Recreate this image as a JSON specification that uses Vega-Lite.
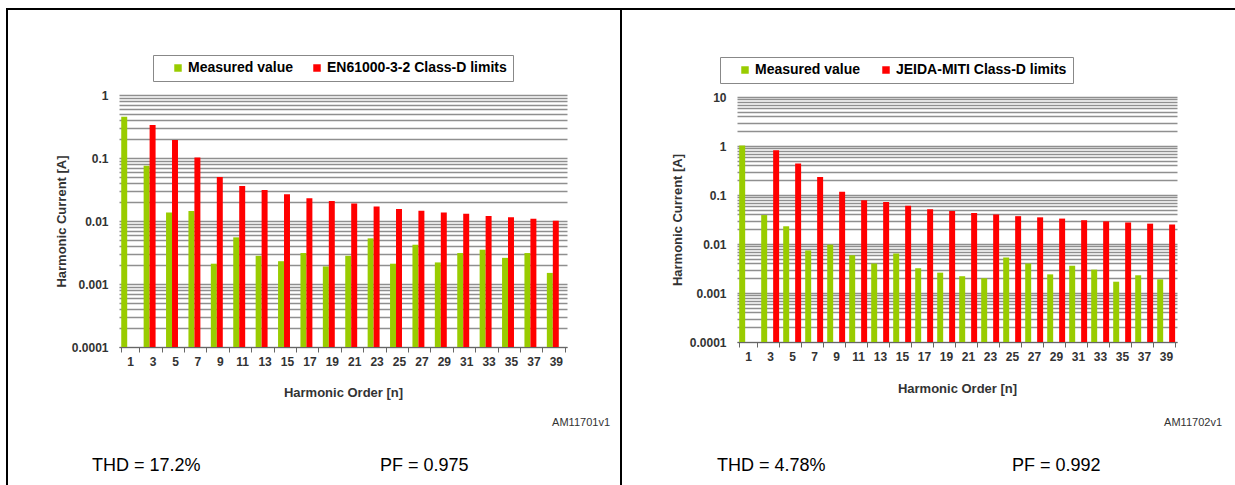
{
  "$schema": "https://vega.github.io/schema/vega-lite/v6.json",
  "background": "white",
  "padding": {"left": 6, "top": 8, "right": 0, "bottom": 0},
  "spacing": 0,
  "bounds": "flush",
  "config": {
    "font": "Liberation Sans",
    "view": {"stroke": "black", "strokeWidth": 2},
    "axis": {"labelFont": "Liberation Sans", "titleFont": "Liberation Sans"},
    "legend": {"labelFont": "Liberation Sans"}
  },
  "resolve": {"scale": {"color": "independent"}, "legend": {"color": "independent"}},
  "hconcat": [
    {
      "width": 614,
      "height": 478,
      "resolve": {"scale": {"x": "independent", "y": "independent"}},
      "layer": [
        {
          "data": {"values": [
            {"n": 1, "series": "Measured value", "current": 0.45},
            {"n": 3, "series": "Measured value", "current": 0.075},
            {"n": 5, "series": "Measured value", "current": 0.0137},
            {"n": 7, "series": "Measured value", "current": 0.0144},
            {"n": 9, "series": "Measured value", "current": 0.0021},
            {"n": 11, "series": "Measured value", "current": 0.0055},
            {"n": 13, "series": "Measured value", "current": 0.0028},
            {"n": 15, "series": "Measured value", "current": 0.0023},
            {"n": 17, "series": "Measured value", "current": 0.0031},
            {"n": 19, "series": "Measured value", "current": 0.0019},
            {"n": 21, "series": "Measured value", "current": 0.0028},
            {"n": 23, "series": "Measured value", "current": 0.0053},
            {"n": 25, "series": "Measured value", "current": 0.0021},
            {"n": 27, "series": "Measured value", "current": 0.0042},
            {"n": 29, "series": "Measured value", "current": 0.0022},
            {"n": 31, "series": "Measured value", "current": 0.0031},
            {"n": 33, "series": "Measured value", "current": 0.0035},
            {"n": 35, "series": "Measured value", "current": 0.0026},
            {"n": 37, "series": "Measured value", "current": 0.0031},
            {"n": 39, "series": "Measured value", "current": 0.0015},
            {"n": 3, "series": "EN61000-3-2 Class-D limits", "current": 0.334},
            {"n": 5, "series": "EN61000-3-2 Class-D limits", "current": 0.193},
            {"n": 7, "series": "EN61000-3-2 Class-D limits", "current": 0.102},
            {"n": 9, "series": "EN61000-3-2 Class-D limits", "current": 0.05},
            {"n": 11, "series": "EN61000-3-2 Class-D limits", "current": 0.036},
            {"n": 13, "series": "EN61000-3-2 Class-D limits", "current": 0.031},
            {"n": 15, "series": "EN61000-3-2 Class-D limits", "current": 0.0265},
            {"n": 17, "series": "EN61000-3-2 Class-D limits", "current": 0.023},
            {"n": 19, "series": "EN61000-3-2 Class-D limits", "current": 0.0207},
            {"n": 21, "series": "EN61000-3-2 Class-D limits", "current": 0.019},
            {"n": 23, "series": "EN61000-3-2 Class-D limits", "current": 0.017},
            {"n": 25, "series": "EN61000-3-2 Class-D limits", "current": 0.0155},
            {"n": 27, "series": "EN61000-3-2 Class-D limits", "current": 0.0146},
            {"n": 29, "series": "EN61000-3-2 Class-D limits", "current": 0.0137},
            {"n": 31, "series": "EN61000-3-2 Class-D limits", "current": 0.013},
            {"n": 33, "series": "EN61000-3-2 Class-D limits", "current": 0.012},
            {"n": 35, "series": "EN61000-3-2 Class-D limits", "current": 0.0115},
            {"n": 37, "series": "EN61000-3-2 Class-D limits", "current": 0.0109},
            {"n": 39, "series": "EN61000-3-2 Class-D limits", "current": 0.0101}
          ]},
          "mark": {"type": "bar"},
          "encoding": {
            "x": {
              "field": "n", "type": "ordinal",
              "scale": {"range": [112, 560], "paddingInner": 0.2, "paddingOuter": 0.1},
              "axis": {
                "orient": "bottom", "offset": -140, "title": "Harmonic Order [n]",
                "titleFontSize": 13, "titleFontWeight": "bold", "titleColor": "#333", "titlePadding": 19,
                "labelAngle": 0, "labelFontSize": 12, "labelFontWeight": "bold", "labelColor": "#333", "labelPadding": 4,
                "tickBand": "extent", "tickSize": 5, "tickColor": "#666", "domainColor": "#666", "grid": false
              }
            },
            "xOffset": {"field": "series", "type": "nominal", "scale": {"domain": ["Measured value", "EN61000-3-2 Class-D limits"], "paddingInner": 0, "paddingOuter": 0}},
            "y": {
              "field": "current", "type": "quantitative",
              "scale": {"type": "log", "domain": [0.0001, 1], "range": [338, 86]},
              "axis": {
                "orient": "left", "offset": -112, "title": "Harmonic Current [A]",
                "values": [0.0001,0.0002,0.0003,0.0004,0.0005,0.0006,0.0007,0.0008,0.0009,0.001,0.002,0.003,0.004,0.005,0.006,0.007,0.008,0.009,0.01,0.02,0.03,0.04,0.05,0.06,0.07,0.08,0.09,0.1,0.2,0.3,0.4,0.5,0.6,0.7,0.8,0.9,1],
                "format": "~g",
                "labelExpr": "abs(log(datum.value)/LN10 - round(log(datum.value)/LN10)) < 0.001 ? datum.label : ''",
                "labelOverlap": false, "labelFontSize": 12, "labelFontWeight": "bold", "labelColor": "#333", "labelPadding": 11,
                "ticks": false, "domain": false, "grid": true, "gridColor": "#8f8f8f", "gridWidth": 1.3,
                "titleFontSize": 13, "titleFontWeight": "bold", "titleColor": "#333", "titlePadding": 3
              }
            },
            "y2": {"datum": 0.0001},
            "color": {
              "field": "series", "type": "nominal",
              "scale": {"domain": ["Measured value", "EN61000-3-2 Class-D limits"], "range": ["#99cc00", "#ff0000"]},
              "legend": {
                "title": null, "orient": "none", "legendX": 146, "legendY": 46, "direction": "horizontal",
                "strokeColor": "#888", "fillColor": "white", "padding": 6, "symbolType": "square", "symbolSize": 56,
                "symbolStrokeWidth": 0, "labelFontSize": 14, "labelFontWeight": "bold", "labelColor": "black",
                "labelOffset": 3, "columnPadding": 4, "symbolOffset": 12, "labelLimit": 0
              }
            }
          }
        },
        {
          "data": {"values": [
            {"note": "THD = 17.2%", "slot": "THD", "row": "results"},
            {"note": "PF = 0.975", "slot": "PF", "row": "results"}
          ]},
          "mark": {"type": "text", "align": "left", "baseline": "middle", "fontSize": 18, "color": "black"},
          "encoding": {
            "x": {"field": "slot", "type": "nominal", "scale": {"type": "point", "domain": ["THD", "PF"], "padding": 0, "range": [85, 373]}, "axis": null},
            "y": {"field": "row", "type": "nominal", "scale": {"type": "point", "padding": 0, "range": [457, 457]}, "axis": null},
            "text": {"field": "note"}
          }
        },
        {
          "data": {"values": [{"note": "AM11701v1", "slot": "id", "row": "id"}]},
          "mark": {"type": "text", "align": "right", "baseline": "middle", "fontSize": 11, "color": "#333"},
          "encoding": {
            "x": {"field": "slot", "type": "nominal", "scale": {"type": "point", "padding": 0, "range": [603, 603]}, "axis": null},
            "y": {"field": "row", "type": "nominal", "scale": {"type": "point", "padding": 0, "range": [414, 414]}, "axis": null},
            "text": {"field": "note"}
          }
        }
      ]
    },
    {
      "width": 616,
      "height": 478,
      "resolve": {"scale": {"x": "independent", "y": "independent"}},
      "layer": [
        {
          "data": {"values": [
            {"n": 1, "series": "Measured value", "current": 1.02},
            {"n": 3, "series": "Measured value", "current": 0.039},
            {"n": 5, "series": "Measured value", "current": 0.023},
            {"n": 7, "series": "Measured value", "current": 0.0074},
            {"n": 9, "series": "Measured value", "current": 0.0097},
            {"n": 11, "series": "Measured value", "current": 0.0059},
            {"n": 13, "series": "Measured value", "current": 0.004},
            {"n": 15, "series": "Measured value", "current": 0.0064},
            {"n": 17, "series": "Measured value", "current": 0.0032},
            {"n": 19, "series": "Measured value", "current": 0.0026},
            {"n": 21, "series": "Measured value", "current": 0.0022},
            {"n": 23, "series": "Measured value", "current": 0.002},
            {"n": 25, "series": "Measured value", "current": 0.0053},
            {"n": 27, "series": "Measured value", "current": 0.004},
            {"n": 29, "series": "Measured value", "current": 0.0024},
            {"n": 31, "series": "Measured value", "current": 0.0036},
            {"n": 33, "series": "Measured value", "current": 0.003},
            {"n": 35, "series": "Measured value", "current": 0.0017},
            {"n": 37, "series": "Measured value", "current": 0.0023},
            {"n": 39, "series": "Measured value", "current": 0.0019},
            {"n": 3, "series": "JEIDA-MITI Class-D limits", "current": 0.82},
            {"n": 5, "series": "JEIDA-MITI Class-D limits", "current": 0.44},
            {"n": 7, "series": "JEIDA-MITI Class-D limits", "current": 0.234},
            {"n": 9, "series": "JEIDA-MITI Class-D limits", "current": 0.116},
            {"n": 11, "series": "JEIDA-MITI Class-D limits", "current": 0.078},
            {"n": 13, "series": "JEIDA-MITI Class-D limits", "current": 0.072},
            {"n": 15, "series": "JEIDA-MITI Class-D limits", "current": 0.06},
            {"n": 17, "series": "JEIDA-MITI Class-D limits", "current": 0.051},
            {"n": 19, "series": "JEIDA-MITI Class-D limits", "current": 0.047},
            {"n": 21, "series": "JEIDA-MITI Class-D limits", "current": 0.043},
            {"n": 23, "series": "JEIDA-MITI Class-D limits", "current": 0.04},
            {"n": 25, "series": "JEIDA-MITI Class-D limits", "current": 0.037},
            {"n": 27, "series": "JEIDA-MITI Class-D limits", "current": 0.035},
            {"n": 29, "series": "JEIDA-MITI Class-D limits", "current": 0.033},
            {"n": 31, "series": "JEIDA-MITI Class-D limits", "current": 0.0306},
            {"n": 33, "series": "JEIDA-MITI Class-D limits", "current": 0.029},
            {"n": 35, "series": "JEIDA-MITI Class-D limits", "current": 0.0275},
            {"n": 37, "series": "JEIDA-MITI Class-D limits", "current": 0.026},
            {"n": 39, "series": "JEIDA-MITI Class-D limits", "current": 0.025}
          ]},
          "mark": {"type": "bar"},
          "encoding": {
            "x": {
              "field": "n", "type": "ordinal",
              "scale": {"range": [116, 556], "paddingInner": 0.2, "paddingOuter": 0.1},
              "axis": {
                "orient": "bottom", "offset": -145, "title": "Harmonic Order [n]",
                "titleFontSize": 13, "titleFontWeight": "bold", "titleColor": "#333", "titlePadding": 20,
                "labelAngle": 0, "labelFontSize": 12, "labelFontWeight": "bold", "labelColor": "#333", "labelPadding": 4,
                "tickBand": "extent", "tickSize": 5, "tickColor": "#666", "domainColor": "#666", "grid": false
              }
            },
            "xOffset": {"field": "series", "type": "nominal", "scale": {"domain": ["Measured value", "JEIDA-MITI Class-D limits"], "paddingInner": 0, "paddingOuter": 0}},
            "y": {
              "field": "current", "type": "quantitative",
              "scale": {"type": "log", "domain": [0.0001, 10], "range": [333, 88]},
              "axis": {
                "orient": "left", "offset": -116, "title": "Harmonic Current [A]",
                "values": [0.0001,0.0002,0.0003,0.0004,0.0005,0.0006,0.0007,0.0008,0.0009,0.001,0.002,0.003,0.004,0.005,0.006,0.007,0.008,0.009,0.01,0.02,0.03,0.04,0.05,0.06,0.07,0.08,0.09,0.1,0.2,0.3,0.4,0.5,0.6,0.7,0.8,0.9,1,2,3,4,5,6,7,8,9,10],
                "format": "~g",
                "labelExpr": "abs(log(datum.value)/LN10 - round(log(datum.value)/LN10)) < 0.001 ? datum.label : ''",
                "labelOverlap": false, "labelFontSize": 12, "labelFontWeight": "bold", "labelColor": "#333", "labelPadding": 11,
                "ticks": false, "domain": false, "grid": true, "gridColor": "#8f8f8f", "gridWidth": 1.3,
                "titleFontSize": 13, "titleFontWeight": "bold", "titleColor": "#333", "titlePadding": 5
              }
            },
            "y2": {"datum": 0.0001},
            "color": {
              "field": "series", "type": "nominal",
              "scale": {"domain": ["Measured value", "JEIDA-MITI Class-D limits"], "range": ["#99cc00", "#ff0000"]},
              "legend": {
                "title": null, "orient": "none", "legendX": 99, "legendY": 48, "direction": "horizontal",
                "strokeColor": "#888", "fillColor": "white", "padding": 6, "symbolType": "square", "symbolSize": 56,
                "symbolStrokeWidth": 0, "labelFontSize": 14, "labelFontWeight": "bold", "labelColor": "black",
                "labelOffset": 3, "columnPadding": 6, "symbolOffset": 12, "labelLimit": 0
              }
            }
          }
        },
        {
          "data": {"values": [
            {"note": "THD = 4.78%", "slot": "THD", "row": "results"},
            {"note": "PF = 0.992", "slot": "PF", "row": "results"}
          ]},
          "mark": {"type": "text", "align": "left", "baseline": "middle", "fontSize": 18, "color": "black"},
          "encoding": {
            "x": {"field": "slot", "type": "nominal", "scale": {"type": "point", "domain": ["THD", "PF"], "padding": 0, "range": [96, 391]}, "axis": null},
            "y": {"field": "row", "type": "nominal", "scale": {"type": "point", "padding": 0, "range": [457, 457]}, "axis": null},
            "text": {"field": "note"}
          }
        },
        {
          "data": {"values": [{"note": "AM11702v1", "slot": "id", "row": "id"}]},
          "mark": {"type": "text", "align": "right", "baseline": "middle", "fontSize": 11, "color": "#333"},
          "encoding": {
            "x": {"field": "slot", "type": "nominal", "scale": {"type": "point", "padding": 0, "range": [601, 601]}, "axis": null},
            "y": {"field": "row", "type": "nominal", "scale": {"type": "point", "padding": 0, "range": [414, 414]}, "axis": null},
            "text": {"field": "note"}
          }
        }
      ]
    }
  ]
}
